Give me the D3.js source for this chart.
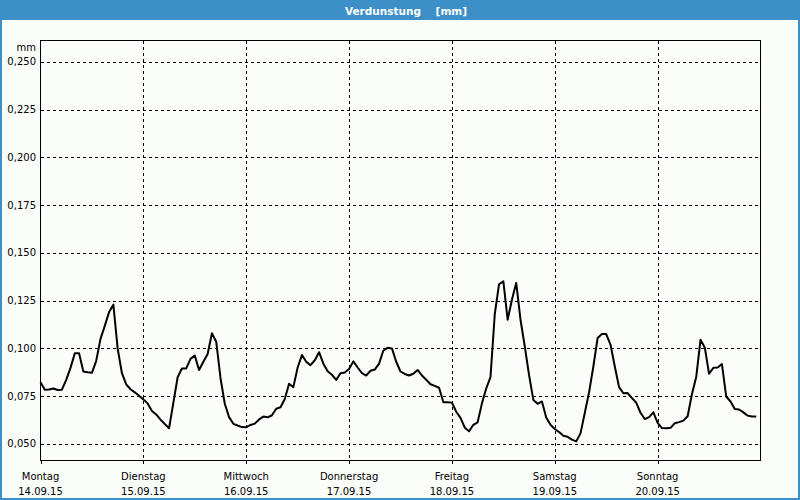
<!DOCTYPE html>
<html>
<head>
<meta charset="utf-8">
<script src="https://cdn.jsdelivr.net/npm/d3@7"></script>
<style>
  html, body { margin: 0; padding: 0; background: #ffffff; }
  svg { display: block; }
  text { font-family: "DejaVu Sans", sans-serif; }
</style>
</head>
<body>
<svg id="chart" width="800" height="500"></svg>
<script>
// ---- data ----
const title = "Verdunstung    [mm]";
const unitLabel = "mm";
const dayNames = ["Montag", "Dienstag", "Mittwoch", "Donnerstag", "Freitag", "Samstag", "Sonntag"];
const dayDates = ["14.09.15", "15.09.15", "16.09.15", "17.09.15", "18.09.15", "19.09.15", "20.09.15"];
const yTicks = [0.050, 0.075, 0.100, 0.125, 0.150, 0.175, 0.200, 0.225, 0.250];
// hourly evaporation values [mm], Monday 00:00 .. Sunday 23:00
const values = [
  0.0823, 0.0784, 0.0785, 0.0790, 0.0782, 0.0784, 0.0835, 0.0898, 0.0974, 0.0974, 0.0879, 0.0875,
  0.0872, 0.0935, 0.1050, 0.1118, 0.1190, 0.1229, 0.1000, 0.0870, 0.0812, 0.0786, 0.0770, 0.0752,
  0.0733, 0.0712, 0.0672, 0.0654, 0.0627, 0.0604, 0.0582, 0.0715, 0.0849, 0.0895, 0.0895, 0.0945,
  0.0962, 0.0887, 0.0930, 0.0971, 0.1079, 0.1035, 0.0845, 0.0710, 0.0640, 0.0605, 0.0596, 0.0588,
  0.0587, 0.0599, 0.0606, 0.0628, 0.0643, 0.0639, 0.0650, 0.0684, 0.0692, 0.0735, 0.0815, 0.0797,
  0.0900, 0.0965, 0.0930, 0.0912, 0.0938, 0.0980, 0.0920, 0.0880, 0.0862, 0.0835, 0.0870, 0.0874,
  0.0892, 0.0932, 0.0900, 0.0870, 0.0858, 0.0883, 0.0889, 0.0920, 0.0989, 0.1003, 0.1000, 0.0930,
  0.0879, 0.0866, 0.0858, 0.0867, 0.0887, 0.0858, 0.0836, 0.0812, 0.0804, 0.0794, 0.0718, 0.0718,
  0.0716, 0.0668, 0.0636, 0.0585, 0.0566, 0.0600, 0.0613, 0.0712, 0.0790, 0.0850, 0.1180, 0.1336,
  0.1351, 0.1150, 0.1255, 0.1343, 0.1150, 0.1010, 0.0860, 0.0730, 0.0710, 0.0722, 0.0638, 0.0600,
  0.0578, 0.0562, 0.0543, 0.0537, 0.0522, 0.0513, 0.0555, 0.0662, 0.0770, 0.0905, 0.1055, 0.1075,
  0.1075, 0.1020, 0.0905, 0.0797, 0.0765, 0.0766, 0.0740, 0.0716, 0.0663, 0.0630, 0.0640, 0.0665,
  0.0610, 0.0583, 0.0582, 0.0584, 0.0608, 0.0614, 0.0622, 0.0645, 0.0760, 0.0850, 0.1045, 0.1005,
  0.0867, 0.0898, 0.0900, 0.0918, 0.0748, 0.0722, 0.0683, 0.0680, 0.0665, 0.0648, 0.0643, 0.0643
];

// ---- layout ----
const W = 800, H = 500;
const plot = { left: 40.5, right: 760.5, top: 40.5, bottom: 460.5 };
const svg = d3.select("#chart");

// frame
svg.append("rect").attr("x", 0).attr("y", 0).attr("width", W).attr("height", H).attr("fill", "#3d8fc7");
svg.append("rect").attr("x", 2).attr("y", 20).attr("width", W - 4).attr("height", H - 22).attr("fill", "#fbfdfb");

svg.append("text")
  .attr("x", 406).attr("y", 14.5)
  .attr("text-anchor", "middle")
  .attr("fill", "#ffffff")
  .attr("font-size", "10.5px")
  .attr("font-weight", "bold")
  .attr("xml:space", "preserve")
  .style("white-space", "pre")
  .text(title);

// scales
const x = d3.scaleLinear().domain([0, 168]).range([plot.left, plot.right]);
const y = d3.scaleLinear().domain([0.0413, 0.2612]).range([plot.bottom, plot.top]);

const fmt = v => d3.format(".3f")(v).replace(".", ",");

// horizontal grid
svg.append("g").selectAll("line").data(yTicks).join("line")
  .attr("x1", plot.left).attr("x2", plot.right)
  .attr("y1", d => Math.round(y(d)) + 0.5).attr("y2", d => Math.round(y(d)) + 0.5)
  .attr("stroke", "#000").attr("stroke-width", 1).attr("stroke-dasharray", "3,3")
  .attr("shape-rendering", "crispEdges");

// vertical grid (day boundaries)
const dayHours = d3.range(0, 7).map(i => i * 24);
svg.append("g").selectAll("line").data(dayHours.slice(1)).join("line")
  .attr("x1", d => Math.round(x(d)) + 0.5).attr("x2", d => Math.round(x(d)) + 0.5)
  .attr("y1", plot.top).attr("y2", plot.bottom)
  .attr("stroke", "#000").attr("stroke-width", 1).attr("stroke-dasharray", "3,3")
  .attr("shape-rendering", "crispEdges");

// plot border
svg.append("rect")
  .attr("x", plot.left).attr("y", plot.top)
  .attr("width", plot.right - plot.left).attr("height", plot.bottom - plot.top)
  .attr("fill", "none").attr("stroke", "#000").attr("stroke-width", 1)
  .attr("shape-rendering", "crispEdges");

// x tick marks
svg.append("g").selectAll("line").data(dayHours).join("line")
  .attr("x1", d => Math.round(x(d)) + 0.5).attr("x2", d => Math.round(x(d)) + 0.5)
  .attr("y1", plot.bottom).attr("y2", plot.bottom + 3)
  .attr("stroke", "#000").attr("shape-rendering", "crispEdges");

// y labels
svg.append("g").selectAll("text").data(yTicks).join("text")
  .attr("x", 36).attr("y", d => y(d))
  .attr("dy", "0.35em")
  .attr("text-anchor", "end")
  .attr("font-size", "10px")
  .attr("fill", "#000")
  .text(d => fmt(d));

svg.append("text")
  .attr("x", 36).attr("y", 47)
  .attr("dy", "0.35em")
  .attr("text-anchor", "end")
  .attr("font-size", "10px")
  .text(unitLabel);

// x labels
const xl = svg.append("g").selectAll("g").data(dayHours).join("g");
xl.append("text")
  .attr("x", d => x(d)).attr("y", 476).attr("dy", "0.35em")
  .attr("text-anchor", "middle").attr("font-size", "10px")
  .text((d, i) => dayNames[i]);
xl.append("text")
  .attr("x", d => x(d)).attr("y", 491).attr("dy", "0.35em")
  .attr("text-anchor", "middle").attr("font-size", "10px")
  .text((d, i) => dayDates[i]);

// line
const line = d3.line().x((d, i) => x(i)).y(d => y(d));
svg.append("path")
  .datum(values)
  .attr("d", line)
  .attr("fill", "none")
  .attr("stroke", "#000")
  .attr("stroke-width", 2)
  .attr("stroke-linejoin", "round");
</script>
</body>
</html>
